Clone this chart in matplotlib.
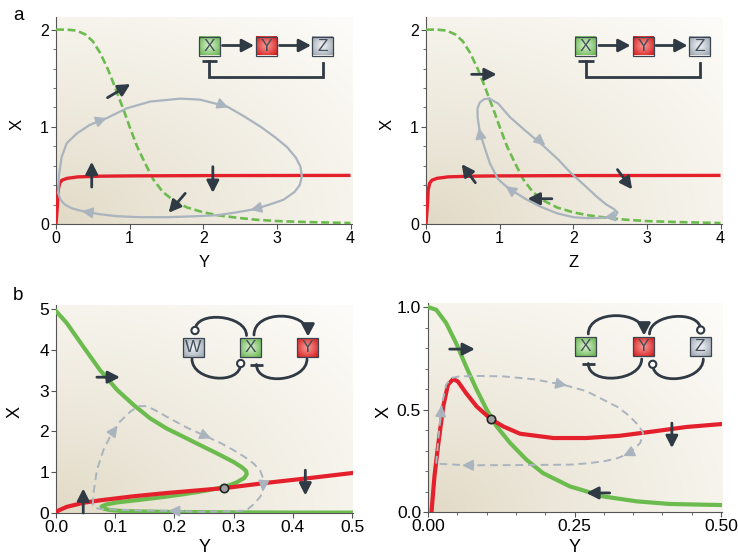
import numpy as np
import matplotlib
matplotlib.use('Agg')
import matplotlib.pyplot as plt
from matplotlib.patches import Rectangle, Circle, FancyArrowPatch
from matplotlib.path import Path

plt.rcParams['font.family'] = ['Liberation Sans', 'DejaVu Sans']

# ---------------- data ----------------
# panel a: nullclines (shared by both plots), x = Y or Z, y = X
a_green_x = [0, 0.15, 0.28, 0.4, 0.5, 0.6, 0.7, 0.78, 0.85, 0.92, 1.0, 1.1, 1.2, 1.32, 1.45,
             1.6, 1.78, 2.0, 2.2, 2.45, 2.7, 3.0, 3.4, 4.0]
a_green_y = [2.0, 2.0, 1.99, 1.95, 1.88, 1.76, 1.60, 1.45, 1.31, 1.17, 1.00, 0.80, 0.64, 0.46, 0.33,
             0.24, 0.17, 0.12, 0.09, 0.065, 0.045, 0.03, 0.02, 0.01]
a_red_x = [0, 0.01, 0.02, 0.03, 0.05, 0.08, 0.15, 0.3, 0.6, 1.0, 2.0, 4.0]
a_red_y = [0, 0.1, 0.2, 0.35, 0.42, 0.45, 0.47, 0.485, 0.492, 0.495, 0.498, 0.5]

# panel a left: limit cycle in (Y, X)
a1_cyc_x = [0.03, 0.04, 0.077, 0.145, 0.28, 0.46, 0.69, 0.96, 1.28, 1.69, 1.95, 2.32, 2.55, 2.78,
            2.98, 3.14, 3.26, 3.32, 3.34, 3.31, 3.24, 3.09, 2.9, 2.68, 2.45, 2.19, 1.9, 1.51,
            1.15, 0.83, 0.6, 0.37, 0.22, 0.12, 0.06, 0.03]
a1_cyc_y = [0.32, 0.5, 0.69, 0.83, 0.93, 1.02, 1.09, 1.19, 1.26, 1.29, 1.28, 1.21, 1.11, 1.0,
            0.89, 0.79, 0.68, 0.59, 0.49, 0.40, 0.33, 0.25, 0.2, 0.15, 0.12, 0.09, 0.08, 0.07,
            0.07, 0.08, 0.1, 0.13, 0.16, 0.2, 0.25, 0.32]
a1_cyc_heads = [(0.58, 1.06, 0.69, 1.09), (2.22, 1.235, 2.34, 1.2),
                (2.78, 0.17, 2.64, 0.145), (0.47, 0.118, 0.35, 0.132)]
a1_flow = [(0.485, 0.38, 0.485, 0.64), (2.13, 0.59, 2.13, 0.32),
           (0.70, 1.30, 1.01, 1.44), (1.755, 0.315, 1.53, 0.116)]

# panel a right: limit cycle in (Z, X)
a2_cyc_x = [0.86, 0.98, 1.14, 1.35, 1.6, 1.8, 1.96, 2.15, 2.32, 2.45, 2.55, 2.6, 2.58, 2.5,
            2.35, 2.19, 2.0, 1.78, 1.55, 1.37, 1.22, 1.1, 0.98, 0.87, 0.79, 0.73, 0.70, 0.70,
            0.73, 0.79, 0.86]
a2_cyc_y = [1.29, 1.24, 1.10, 0.96, 0.8, 0.66, 0.53, 0.4, 0.28, 0.2, 0.155, 0.12, 0.09, 0.072,
            0.062, 0.06, 0.07, 0.11, 0.18, 0.25, 0.32, 0.38, 0.46, 0.62, 0.8, 0.95, 1.1, 1.19,
            1.25, 1.285, 1.29]
a2_cyc_heads = [(1.5, 0.885, 1.62, 0.81), (2.55, 0.08, 2.42, 0.066),
                (1.2, 0.325, 1.08, 0.39), (0.745, 0.88, 0.718, 0.99)]
a2_flow = [(0.62, 1.54, 0.96, 1.54), (0.67, 0.425, 0.485, 0.616),
           (2.6, 0.56, 2.8, 0.356), (1.71, 0.26, 1.38, 0.26)]

# panel b left: (Y, X)
b1_green_x = [0.0, 0.018, 0.046, 0.074, 0.103, 0.131, 0.159, 0.187, 0.215, 0.244, 0.272, 0.300,
              0.314, 0.321, 0.322, 0.318, 0.305, 0.285, 0.25, 0.215, 0.18, 0.14, 0.103, 0.085,
              0.077, 0.08, 0.09, 0.11, 0.15, 0.2, 0.3, 0.4, 0.5]
b1_green_y = [4.95, 4.66, 4.08, 3.51, 3.02, 2.65, 2.32, 2.07, 1.87, 1.66, 1.46, 1.25,
              1.12, 1.03, 0.95, 0.86, 0.75, 0.64, 0.54, 0.46, 0.39, 0.32, 0.26, 0.21,
              0.16, 0.11, 0.075, 0.05, 0.035, 0.025, 0.015, 0.01, 0.01]
b1_red_x = [0, 0.003, 0.007, 0.018, 0.046, 0.074, 0.131, 0.187, 0.284, 0.356, 0.43, 0.5]
b1_red_y = [0, 0.05, 0.08, 0.15, 0.25, 0.31, 0.41, 0.49, 0.61, 0.74, 0.86, 0.98]
b1_cyc_x = [0.062, 0.064, 0.069, 0.08, 0.094, 0.108, 0.125, 0.139, 0.153, 0.17, 0.187, 0.22,
            0.255, 0.28, 0.3, 0.318, 0.334, 0.345, 0.35, 0.35, 0.345, 0.335, 0.322, 0.3,
            0.244, 0.198, 0.15, 0.103, 0.075, 0.065, 0.062]
b1_cyc_y = [0.19, 0.56, 1.05, 1.54, 1.95, 2.24, 2.48, 2.62, 2.62, 2.5, 2.36, 2.1,
            1.87, 1.7, 1.54, 1.38, 1.21, 1.03, 0.84, 0.56, 0.4, 0.23, 0.07, 0.04,
            0.03, 0.05, 0.06, 0.08, 0.1, 0.13, 0.19]
b1_cyc_heads = [(0.097, 2.0, 0.104, 2.14), (0.244, 1.94, 0.262, 1.83),
                (0.35, 0.66, 0.349, 0.52), (0.215, 0.046, 0.19, 0.05)]
b1_flow = [(0.069, 3.33, 0.108, 3.33), (0.046, 0.0, 0.046, 0.6), (0.421, 1.05, 0.421, 0.43)]
b1_fixed = (0.284, 0.61)

# panel b right: (Y, X)
b2_green_x = [0, 0.014, 0.031, 0.048, 0.065, 0.083, 0.1, 0.117, 0.14, 0.168, 0.196, 0.242,
              0.299, 0.356, 0.413, 0.5]
b2_green_y = [1.0, 0.987, 0.922, 0.824, 0.71, 0.597, 0.5, 0.418, 0.337, 0.255, 0.19, 0.125,
              0.076, 0.052, 0.039, 0.034]
b2_red_x = [0.006, 0.011, 0.017, 0.026, 0.034, 0.043, 0.051, 0.065, 0.083, 0.107, 0.128, 0.157,
            0.214, 0.27, 0.327, 0.384, 0.441, 0.5]
b2_red_y = [0, 0.174, 0.32, 0.515, 0.621, 0.649, 0.637, 0.58, 0.515, 0.454, 0.418, 0.382,
            0.361, 0.361, 0.372, 0.393, 0.415, 0.429]
b2_cyc_x = [0.014, 0.017, 0.023, 0.031, 0.04, 0.054, 0.09, 0.128, 0.18, 0.231, 0.27, 0.299,
            0.325, 0.344, 0.36, 0.367, 0.362, 0.352, 0.339, 0.32, 0.299, 0.27, 0.242, 0.15,
            0.065, 0.014]
b2_cyc_y = [0.236, 0.337, 0.515, 0.621, 0.654, 0.662, 0.664, 0.662, 0.648, 0.621, 0.59, 0.548,
            0.51, 0.467, 0.42, 0.385, 0.337, 0.31, 0.28, 0.26, 0.247, 0.237, 0.231, 0.229,
            0.228, 0.236]
b2_cyc_heads = [(0.021, 0.44, 0.023, 0.52), (0.215, 0.63, 0.237, 0.617),
                (0.349, 0.295, 0.333, 0.273), (0.078, 0.228, 0.058, 0.228)]
b2_flow = [(0.037, 0.795, 0.08, 0.795), (0.31, 0.093, 0.27, 0.093), (0.416, 0.434, 0.416, 0.312)]
b2_fixed = (0.107, 0.454)

RED = '#e3202b'
GREEN = '#6cbb4e'
GRAY = '#a9b4be'
DARK = '#2f3a44'
SPINE = '#555555'

W, H = 738, 557
fig = plt.figure(figsize=(W / 100, H / 100), dpi=100)


def add_ax(l, t, r, b):
    return fig.add_axes([l / W, 1 - b / H, (r - l) / W, (b - t) / H])


def background(ax):
    u = np.linspace(0, 1, 200)
    xx, yy = np.meshgrid(u, u)
    t = np.clip(np.sqrt(xx ** 2 + yy ** 2) / 1.35, 0, 1) ** 0.8
    c0 = np.array([0.88, 0.85, 0.77])
    c1 = np.array([0.99, 0.985, 0.97])
    img = c0 + (c1 - c0) * t[..., None]
    ax.imshow(img, extent=(0, 1, 0, 1), transform=ax.transAxes, origin='lower',
              aspect='auto', zorder=0)


def style(ax, xlim, ylim, xt, xl, yt, yl, xminor, yminor, fs):
    ax.set_xlim(*xlim)
    ax.set_ylim(*ylim)
    for s in ['top', 'right']:
        ax.spines[s].set_visible(False)
    for s in ['left', 'bottom']:
        ax.spines[s].set_color(SPINE)
        ax.spines[s].set_linewidth(0.8)
    ax.set_xticks(xt)
    ax.set_xticklabels(xl)
    ax.set_yticks(yt)
    ax.set_yticklabels(yl)
    if xminor is not None:
        ax.set_xticks(xminor, minor=True)
    if yminor is not None:
        ax.set_yticks(yminor, minor=True)
    ax.tick_params(which='major', direction='out', length=3.5, width=0.8, color=SPINE,
                   labelsize=fs, pad=1.5)
    ax.tick_params(which='minor', direction='out', length=2.2, width=0.6, color=SPINE)


def flow_arrows(ax, arrows):
    for x0, y0, x1, y1 in arrows:
        ax.annotate('', xy=(x1, y1), xytext=(x0, y0), zorder=8,
                    arrowprops=dict(arrowstyle='-|>,head_length=0.55,head_width=0.28',
                                    color=DARK, lw=2.0, shrinkA=0, shrinkB=0,
                                    mutation_scale=13))


def cyc_heads(ax, heads):
    for x0, y0, x1, y1 in heads:
        ax.annotate('', xy=(x1, y1), xytext=(x0, y0), zorder=7,
                    arrowprops=dict(arrowstyle='-|>,head_length=0.6,head_width=0.3',
                                    color=GRAY, lw=1.2, shrinkA=0, shrinkB=0,
                                    mutation_scale=11))


axA1 = add_ax(56, 17, 352, 224)
axA2 = add_ax(426, 17, 722, 224)
axB1 = add_ax(56, 305, 353, 513)
axB2 = add_ax(428, 303, 722, 512)

# ---- a left
ax = axA1
background(ax)
ax.plot(a_green_x, a_green_y, color=GREEN, lw=1.9, dashes=(3, 1.4), zorder=3)
ax.plot(a_red_x, a_red_y, color=RED, lw=2.4, zorder=4, solid_capstyle='butt')
ax.plot(a1_cyc_x, a1_cyc_y, color=GRAY, lw=1.6, zorder=5)
cyc_heads(ax, a1_cyc_heads)
flow_arrows(ax, a1_flow)

# ---- a right
ax = axA2
background(ax)
ax.plot(a_green_x, a_green_y, color=GREEN, lw=1.9, dashes=(3, 1.4), zorder=3)
ax.plot(a_red_x, a_red_y, color=RED, lw=2.4, zorder=4, solid_capstyle='butt')
ax.plot(a2_cyc_x, a2_cyc_y, color=GRAY, lw=1.6, zorder=5)
cyc_heads(ax, a2_cyc_heads)
flow_arrows(ax, a2_flow)

# ---- b left
ax = axB1
background(ax)
ax.plot(b1_green_x, b1_green_y, color=GREEN, lw=3.0, zorder=3)
ax.plot(b1_red_x, b1_red_y, color=RED, lw=3.0, zorder=4)
ax.plot(b1_cyc_x, b1_cyc_y, color=GRAY, lw=1.4, dashes=(4, 2.5), zorder=5)
cyc_heads(ax, b1_cyc_heads)
flow_arrows(ax, b1_flow)
ax.plot(*b1_fixed, 'o', ms=6, mfc='#a0a0a0', mec='#222222', mew=1.2, zorder=9)

# ---- b right
ax = axB2
background(ax)
ax.plot(b2_green_x, b2_green_y, color=GREEN, lw=3.0, zorder=3)
ax.plot(b2_red_x, b2_red_y, color=RED, lw=3.0, zorder=4)
ax.plot(b2_cyc_x, b2_cyc_y, color=GRAY, lw=1.4, dashes=(4, 2.5), zorder=5)
cyc_heads(ax, b2_cyc_heads)
flow_arrows(ax, b2_flow)
ax.plot(*b2_fixed, 'o', ms=6, mfc='#a0a0a0', mec='#222222', mew=1.2, zorder=9)

style(axA1, (0, 4.02), (0, 2.13), [0, 1, 2, 3, 4], ['0', '1', '2', '3', '4'],
      [0, 1, 2], ['0', '1', '2'], None, np.arange(0.2, 2.1, 0.2), 11.5)
style(axA2, (0, 4.02), (0, 2.13), [0, 1, 2, 3, 4], ['0', '1', '2', '3', '4'],
      [0, 1, 2], ['0', '1', '2'], None, np.arange(0.2, 2.1, 0.2), 11.5)
style(axB1, (0, 0.5015), (0, 5.1), [0, 0.1, 0.2, 0.3, 0.4, 0.5],
      ['0.0', '0.1', '0.2', '0.3', '0.4', '0.5'],
      [0, 1, 2, 3, 4, 5], ['0', '1', '2', '3', '4', '5'], None, None, 12.5)
style(axB2, (0, 0.5015), (0, 1.02), [0, 0.25, 0.5], ['0.00', '0.25', '0.50'],
      [0, 0.5, 1.0], ['0.0', '0.5', '1.0'], np.arange(0.05, 0.5, 0.05),
      np.arange(0.1, 1.0, 0.1), 12.5)

for ax, xl, fs in [(axA1, 'Y', 12), (axA2, 'Z', 12), (axB1, 'Y', 13), (axB2, 'Y', 13)]:
    ax.set_xlabel(xl, fontsize=fs)
    ax.set_ylabel('X', fontsize=fs, rotation=90)
axA1.xaxis.set_label_coords(0.5, -0.15)
axA2.xaxis.set_label_coords(0.5, -0.15)
axA1.yaxis.set_label_coords(-0.105, 0.48)
axA2.yaxis.set_label_coords(-0.105, 0.48)
axB1.xaxis.set_label_coords(0.5, -0.125)
axB2.xaxis.set_label_coords(0.5, -0.13)
axB1.yaxis.set_label_coords(-0.11, 0.486)
axB2.yaxis.set_label_coords(-0.122, 0.478)

fig.text(13 / W, 1 - 15 / H, 'a', fontsize=13.5, va='center', ha='left')
fig.text(13 / W, 1 - 296 / H, 'b', fontsize=13.5, va='center', ha='left')

# ---------------- network diagrams (pixel overlay) ----------------
ov = fig.add_axes([0, 0, 1, 1], zorder=20)
ov.axis('off')

BOX_COLORS = {'X': ((0.86, 0.95, 0.82), (0.42, 0.72, 0.33)),
              'Y': ((0.97, 0.62, 0.60), (0.85, 0.13, 0.13)),
              'Z': ((0.95, 0.96, 0.97), (0.62, 0.66, 0.70)),
              'W': ((0.95, 0.96, 0.97), (0.62, 0.66, 0.70))}


def box(x0, y0, letter, w=21, h=19):
    cin, cout = BOX_COLORS[letter]
    u = np.linspace(-1, 1, 30)
    xx, yy = np.meshgrid(u, u)
    r = np.clip(np.sqrt(xx ** 2 + yy ** 2) / 1.3, 0, 1)
    img = np.array(cin) + (np.array(cout) - np.array(cin)) * r[..., None]
    ov.imshow(img, extent=(x0, x0 + w, y0 + h, y0), aspect='auto', zorder=5)
    ov.add_patch(Rectangle((x0, y0), w, h, fill=False, ec='#3a4550', lw=0.9, zorder=6))
    ov.text(x0 + w / 2, y0 + h / 2 + 0.5, letter, ha='center', va='center', fontsize=12.5,
            color='#46505a', zorder=7)


def straight(A, B):
    ov.annotate('', xy=B, xytext=A, zorder=6,
                arrowprops=dict(arrowstyle='-|>,head_length=0.6,head_width=0.32', color=DARK,
                                lw=2.0, shrinkA=0, shrinkB=0, mutation_scale=12))


def tbar(B, d, half=6.5):
    d = np.asarray(d, float)
    d = d / np.hypot(*d)
    p = np.array([-d[1], d[0]])
    ov.plot([B[0] - p[0] * half, B[0] + p[0] * half], [B[1] - p[1] * half, B[1] + p[1] * half],
            color=DARK, lw=2.0, solid_capstyle='butt', zorder=6)


def knob(c):
    ov.add_patch(Circle(c, 3.6, fc='white', ec=DARK, lw=1.5, zorder=7))


def arc(A, B, peak, head=False, start=None, end=None):
    my = (A[1] + B[1]) / 2
    k = (peak - my) / 0.75
    verts = [A, (A[0], A[1] + k), (B[0], B[1] + k), B]
    path = Path(verts, [Path.MOVETO, Path.CURVE4, Path.CURVE4, Path.CURVE4])
    st = '-|>,head_length=0.6,head_width=0.32' if head else '-'
    ov.add_patch(FancyArrowPatch(path=path, arrowstyle=st, mutation_scale=12, lw=2.0,
                                 color=DARK, zorder=6))
    if start == 'o':
        knob(A)
    if end == 'o':
        knob(B)
    if end == 'T':
        tbar(B, (0, -np.sign(k)))


for dx in [0, 376.5]:
    box(198.5 + dx, 36.5, 'X')
    box(256 + dx, 36.5, 'Y')
    box(312.3 + dx, 36.5, 'Z')
    straight((222.5 + dx, 45.5), (254 + dx, 45.5))
    straight((279.5 + dx, 45.5), (311 + dx, 45.5))
    ov.plot([323 + dx, 323 + dx, 209.3 + dx, 209.3 + dx], [63, 77.3, 77.3, 61],
            color=DARK, lw=2.0, solid_joinstyle='miter', zorder=6)
    ov.plot([201.5 + dx, 217.3 + dx], [60.8, 60.8], color=DARK, lw=2.0,
            solid_capstyle='butt', zorder=6)

# b left: W  X  Y
box(182.7, 337.7, 'W')
box(239.5, 337.7, 'X')
box(297.3, 337.7, 'Y')
arc((195, 330.5), (246.5, 335.5), 317.5, start='o')
arc((254, 335), (308, 336.5), 316.5, head=True)
arc((192, 359), (240.7, 363.5), 378, end='o')
arc((307, 359), (256.5, 364.5), 378.5, end='T')

# b right: X  Y  Z
box(575, 336.7, 'X')
box(633.3, 336.7, 'Y')
box(689.5, 336.7, 'Z')
arc((588.3, 334), (644, 335.5), 316, head=True)
arc((649.5, 334), (700.7, 330), 316.5, end='o')
arc((641.7, 359), (588.3, 363.5), 378, end='T')
arc((652.7, 364.3), (703.3, 359), 378.5, start='o')

ov.set_xlim(0, W)
ov.set_ylim(H, 0)

fig.savefig('out.png', dpi=100)
